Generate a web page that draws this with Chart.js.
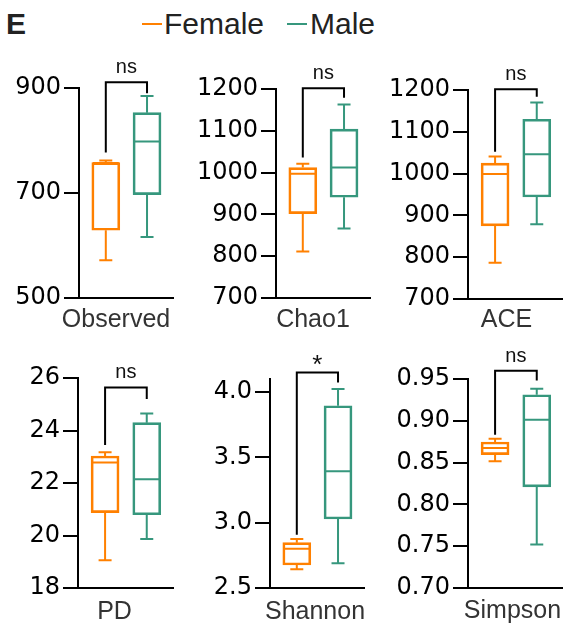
<!DOCTYPE html>
<html>
<head>
<meta charset="utf-8">
<script src="https://cdn.jsdelivr.net/npm/chart.js@4.4.0/dist/chart.umd.min.js"></script>
<style>
  body { margin:0; background:#fff; width:563px; height:623px; position:relative; overflow:hidden;
         font-family:"Liberation Sans", Arial, sans-serif; }
  canvas { position:absolute; }
  .lg { position:absolute; line-height:1; color:#222; font-size:30px; top:9px; white-space:nowrap; }
  .mk { position:absolute; height:2px; width:20px; top:23px; }
</style>
</head>
<body>
<div class="lg" style="left:6px; font-weight:bold;">E</div>
<div class="mk" style="left:142px; background:#FF8000;"></div>
<div class="lg" style="left:164px;">Female</div>
<div class="mk" style="left:287px; background:#36977D;"></div>
<div class="lg" style="left:310px;">Male</div>

<script>
// values
var panelNames = ['Observed', 'Chao1', 'ACE', 'PD', 'Shannon', 'Simpson'];
var groups = ['Female', 'Male'];

var femaleMin    = [572, 811, 787, 19.06, 2.643, 0.8515];
var femaleQ1     = [629, 902, 875, 20.87, 2.676, 0.8595];
var femaleMedian = [757, 997, 999, 22.78, 2.800, 0.8674];
var femaleQ3     = [758, 1012, 1025, 23.03, 2.847, 0.8746];
var femaleMax    = [762, 1021, 1041, 23.17, 2.875, 0.8786];

var maleMin    = [616, 866, 879, 19.87, 2.690, 0.752];
var maleQ1     = [697, 941, 944, 20.79, 3.028, 0.821];
var maleMedian = [798, 1012, 1046, 22.14, 3.393, 0.9013];
var maleQ3     = [853, 1104, 1130, 24.30, 3.895, 0.9312];
var maleMax    = [885, 1163, 1170, 24.65, 4.023, 0.9384];

// axes
var yMin = [500, 700, 700, 18, 2.5, 0.70];
var yMax = [900, 1200, 1200, 26, 4.1, 0.95];
var yTicks = [
  [500, 700, 900],
  [700, 800, 900, 1000, 1100, 1200],
  [700, 800, 900, 1000, 1100, 1200],
  [18, 20, 22, 24, 26],
  [2.5, 3.0, 3.5, 4.0],
  [0.70, 0.75, 0.80, 0.85, 0.90, 0.95]
];
var yDecimals = [0, 0, 0, 0, 1, 2];

// significance brackets (in data units of each panel)
var sigLabels = ['ns', 'ns', 'ns', 'ns', '*', 'ns'];
var bracketTop = [911, 1202, 1202, 25.64, 4.15, 0.960];
var bracketLeftEnd = [777, 1036, 1052, 23.45, 2.908, 0.8834];
var bracketRightEnd = [890, 1179, 1184, 25.2, 4.073, 0.9483];

var orange = '#FF8000';
var green = '#36977D';

// canvas placement of each panel
var layouts = [
  {left:0,   top:40,  w:175, h:300, yw:79, padTop:48, padRight:2, xh:42, nameDx:-10, nameDy:29},
  {left:190, top:40,  w:182, h:300, yw:86, padTop:49, padRight:2, xh:42, nameDx:-10, nameDy:29},
  {left:378, top:40,  w:185, h:300, yw:90, padTop:50, padRight:0, xh:41, nameDx:-9,  nameDy:28},
  {left:0,   top:340, w:175, h:283, yw:78, padTop:38, padRight:2, xh:35, nameDx:-11, nameDy:31},
  {left:190, top:340, w:176, h:283, yw:80, padTop:39, padRight:2, xh:35, nameDx:-2,  nameDy:31},
  {left:378, top:340, w:185, h:283, yw:90, padTop:39, padRight:0, xh:35, nameDx:-3,  nameDy:30}
];

// whiskers, medians, bracket and panel name
var boxExtras = {
  id: 'boxExtras',
  afterDatasetsDraw: function(chart) {
    var o = chart.options.plugins.boxExtras;
    var i = o.panel;
    var ctx = chart.ctx;
    var ys = chart.scales.y;
    var stats = [
      {min:femaleMin[i], q1:femaleQ1[i], med:femaleMedian[i], q3:femaleQ3[i], max:femaleMax[i], color:orange},
      {min:maleMin[i], q1:maleQ1[i], med:maleMedian[i], q3:maleQ3[i], max:maleMax[i], color:green}
    ];
    var centers = [];
    stats.forEach(function(st, g) {
      var bar = chart.getDatasetMeta(g).data[0];
      var cx = bar.x, half = bar.width / 2, cap = 6.5;
      centers.push(cx);
      ctx.save();
      ctx.strokeStyle = st.color;
      ctx.lineWidth = 2;
      ctx.beginPath();
      ctx.moveTo(cx, ys.getPixelForValue(st.max));
      ctx.lineTo(cx, ys.getPixelForValue(st.q3));
      ctx.moveTo(cx, ys.getPixelForValue(st.q1));
      ctx.lineTo(cx, ys.getPixelForValue(st.min));
      ctx.moveTo(cx - cap, ys.getPixelForValue(st.max));
      ctx.lineTo(cx + cap, ys.getPixelForValue(st.max));
      ctx.moveTo(cx - cap, ys.getPixelForValue(st.min));
      ctx.lineTo(cx + cap, ys.getPixelForValue(st.min));
      ctx.moveTo(cx - half + 1, ys.getPixelForValue(st.med));
      ctx.lineTo(cx + half - 1, ys.getPixelForValue(st.med));
      ctx.stroke();
      ctx.restore();
    });

    // bracket
    var yt = ys.getPixelForValue(bracketTop[i]);
    ctx.save();
    ctx.strokeStyle = '#000';
    ctx.lineWidth = 2;
    ctx.beginPath();
    ctx.moveTo(centers[0], ys.getPixelForValue(bracketLeftEnd[i]));
    ctx.lineTo(centers[0], yt);
    ctx.lineTo(centers[1], yt);
    ctx.lineTo(centers[1], ys.getPixelForValue(bracketRightEnd[i]));
    ctx.stroke();
    ctx.fillStyle = '#111';
    ctx.textAlign = 'center';
    ctx.textBaseline = 'alphabetic';
    if (sigLabels[i] === '*') {
      ctx.font = '26px "Liberation Sans", Arial';
      ctx.fillText(sigLabels[i], (centers[0] + centers[1]) / 2, yt + 1);
    } else {
      ctx.font = '20px "Liberation Sans", Arial';
      ctx.fillText(sigLabels[i], (centers[0] + centers[1]) / 2, yt - 9);
    }

    // panel name under the x axis
    var ca = chart.chartArea;
    ctx.fillStyle = '#333';
    ctx.font = '25px "Liberation Sans", Arial';
    ctx.fillText(panelNames[i], (ca.left + ca.right) / 2 + o.nameDx, ca.bottom + o.nameDy);
    ctx.restore();
  }
};

panelNames.forEach(function(name, i) {
  var L = layouts[i];
  var cv = document.createElement('canvas');
  cv.width = L.w; cv.height = L.h;
  cv.style.left = L.left + 'px';
  cv.style.top = L.top + 'px';
  document.body.appendChild(cv);

  var boxStyle = {backgroundColor:'rgba(0,0,0,0)', borderWidth:2, borderSkipped:false,
                  barThickness:28, grouped:false};

  new Chart(cv.getContext('2d'), {
    type: 'bar',
    data: {
      datasets: [
        Object.assign({label:groups[0], borderColor:orange,
          data:[{x:0, y:[femaleQ1[i], femaleQ3[i]]}]}, boxStyle),
        Object.assign({label:groups[1], borderColor:green,
          data:[{x:1, y:[maleQ1[i], maleQ3[i]]}]}, boxStyle)
      ]
    },
    options: {
      responsive: false,
      animation: false,
      layout: { padding: { top:L.padTop, right:L.padRight, left:0, bottom:0 } },
      plugins: {
        legend: { display:false },
        tooltip: { enabled:false },
        boxExtras: { panel:i, nameDx:L.nameDx, nameDy:L.nameDy }
      },
      scales: {
        x: {
          type: 'linear', min:-0.65, max:1.63, offset:false,
          ticks: { display:false },
          grid: { display:false, drawTicks:false, offset:false },
          border: { display:true, color:'#000', width:2 },
          afterFit: function(s) { s.height = L.xh; }
        },
        y: {
          min: yMin[i], max: yMax[i],
          afterBuildTicks: function(s) {
            s.ticks = yTicks[i].map(function(v) { return {value:v}; });
          },
          ticks: {
            color:'#000', padding:3,
            font: { family:'DejaVu Sans', size:24 },
            callback: function(v) { return Number(v).toFixed(yDecimals[i]); }
          },
          grid: { drawOnChartArea:false, drawTicks:true, tickLength:15, color:'#000', lineWidth:2 },
          border: { display:true, color:'#000', width:2 },
          afterFit: function(s) { s.width = L.yw; }
        }
      }
    },
    plugins: [boxExtras]
  });
});
</script>
</body>
</html>
